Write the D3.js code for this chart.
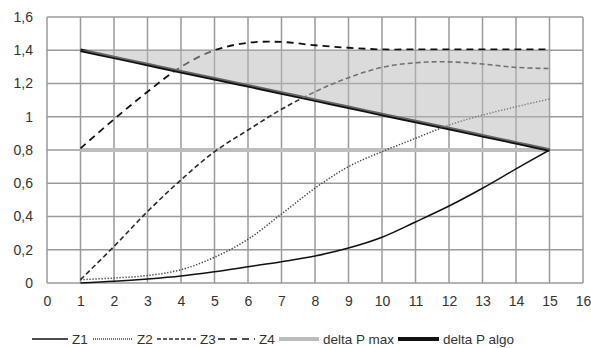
<!DOCTYPE html>
<html>
<head>
<meta charset="utf-8">
<script src="https://cdn.jsdelivr.net/npm/d3@7"></script>
<style>
  body { margin: 0; background: #fff; }
  svg { display: block; font-family: "Liberation Sans", Arial, sans-serif; }
</style>
</head>
<body>
<div id="chart"></div>
<script>
// data
const xs = [1, 2, 3, 4, 5, 6, 7, 8, 9, 10, 11, 12, 13, 14, 15];
const z1 = [0, 0.01, 0.024, 0.042, 0.068, 0.098, 0.128, 0.162, 0.21, 0.275, 0.367, 0.463, 0.57, 0.686, 0.8];
const z2 = [0.02, 0.03, 0.045, 0.08, 0.155, 0.263, 0.415, 0.57, 0.70, 0.79, 0.87, 0.95, 1.01, 1.06, 1.107];
const z3 = [0.02, 0.22, 0.43, 0.62, 0.79, 0.92, 1.045, 1.15, 1.235, 1.297, 1.325, 1.33, 1.317, 1.297, 1.29];
const z4 = [0.81, 0.985, 1.15, 1.3, 1.4, 1.445, 1.45, 1.43, 1.415, 1.405, 1.405, 1.405, 1.405, 1.405, 1.405];
const deltaPMax = [0.8, 0.8, 0.8, 0.8, 0.8, 0.8, 0.8, 0.8, 0.8, 0.8, 0.8, 0.8, 0.8, 0.8, 0.8];
const deltaPAlgo = [1.4, 1.357, 1.314, 1.271, 1.229, 1.186, 1.143, 1.1, 1.057, 1.014, 0.971, 0.929, 0.886, 0.843, 0.8];
const zoneTop = [1.4, 1.4, 1.4, 1.4, 1.4, 1.4, 1.4, 1.4, 1.4, 1.4, 1.4, 1.4, 1.4, 1.4, 1.4];

const xTicks = [0, 1, 2, 3, 4, 5, 6, 7, 8, 9, 10, 11, 12, 13, 14, 15, 16];
const yTicks = [0, 0.2, 0.4, 0.6, 0.8, 1, 1.2, 1.4, 1.6];
const yTickLabels = ["0", "0,2", "0,4", "0,6", "0,8", "1", "1,2", "1,4", "1,6"];

const seriesNames = ["Z1", "Z2", "Z3", "Z4", "delta P max", "delta P algo"];

function main() {
    const width = 591, height = 348;
    const left = 47, right = 583, top = 17, bottom = 283;

    const svg = d3.select("#chart").append("svg")
        .attr("width", width)
        .attr("height", height);

    const x = d3.scaleLinear().domain([0, 16]).range([left, right]);
    const y = d3.scaleLinear().domain([0, 1.6]).range([bottom, top]);

    // grid
    const gridColor = "#9a9a9a";
    svg.append("g")
        .selectAll("line")
        .data(xTicks)
        .join("line")
        .attr("x1", d => x(d)).attr("x2", d => x(d))
        .attr("y1", top).attr("y2", bottom)
        .attr("stroke", gridColor)
        .attr("stroke-width", 1.5);
    svg.append("g")
        .selectAll("line")
        .data(yTicks)
        .join("line")
        .attr("x1", left).attr("x2", right)
        .attr("y1", d => y(d)).attr("y2", d => y(d))
        .attr("stroke", gridColor)
        .attr("stroke-width", 1.5);

    // axes labels
    const yAxis = svg.append("g")
        .attr("transform", `translate(${left},0)`)
        .call(d3.axisLeft(y).tickValues(yTicks)
            .tickFormat((d, i) => yTickLabels[i]).tickSize(0).tickPadding(14));
    const xAxis = svg.append("g")
        .attr("transform", `translate(0,${bottom})`)
        .call(d3.axisBottom(x).tickValues(xTicks).tickSize(0).tickPadding(13));
    [xAxis, yAxis].forEach(g => {
        g.select(".domain").remove();
        g.selectAll("text")
            .attr("font-size", "14px")
            .attr("font-family", "Liberation Sans, Arial, sans-serif")
            .attr("fill", "#333");
    });

    const line = d3.line()
        .x((d, i) => x(xs[i]))
        .y(d => y(d))
        .curve(d3.curveCatmullRom.alpha(0.5));

    const styles = [
        { data: z1, color: "#111", w: 1.5, dash: null },
        { data: z2, color: "#444", w: 1.5, dash: "1.3,1.7" },
        { data: z3, color: "#2a2a2a", w: 1.6, dash: "5,3" },
        { data: z4, color: "#111", w: 1.8, dash: "7,5" },
        { data: deltaPMax, color: "#bdbdbd", w: 4, dash: null },
        { data: deltaPAlgo, color: "#111", w: 3.5, dash: null }
    ];
    const drawOrder = [4, 5, 0, 1, 2, 3];
    drawOrder.forEach(k => {
        const s = styles[k];
        svg.append("path")
            .datum(s.data)
            .attr("d", line)
            .attr("fill", "none")
            .attr("stroke", s.color)
            .attr("stroke-width", s.w)
            .attr("stroke-dasharray", s.dash)
            .attr("stroke-linecap", "butt");
    });

    // shaded zone between algo line and 1.4, semi-transparent over the lines
    const area = d3.area()
        .x((d, i) => x(xs[i]))
        .y0((d, i) => y(deltaPAlgo[i]))
        .y1(d => y(d));
    svg.append("path")
        .datum(zoneTop)
        .attr("d", area)
        .attr("fill", "#b8b8b8")
        .attr("fill-opacity", 0.5);

    // legend
    const legendX = [32, 93, 157, 218, 279, 398];
    const legendLen = [36, 40, 39, 37, 40, 41];
    const legendDash = [null, "1,1", "4,2", "7,5", null, null];
    const legendY = 339;
    const lg = svg.append("g");
    seriesNames.forEach((name, i) => {
        lg.append("line")
            .attr("x1", legendX[i]).attr("x2", legendX[i] + legendLen[i])
            .attr("y1", legendY).attr("y2", legendY)
            .attr("stroke", styles[i].color)
            .attr("stroke-width", i >= 4 ? 4 : 1.5)
            .attr("stroke-dasharray", legendDash[i]);
        lg.append("text")
            .attr("x", legendX[i] + legendLen[i] + 4)
            .attr("y", legendY + 5)
            .attr("font-size", "13.5px")
            .attr("fill", "#333")
            .text(name);
    });
}
main();
</script>
</body>
</html>
